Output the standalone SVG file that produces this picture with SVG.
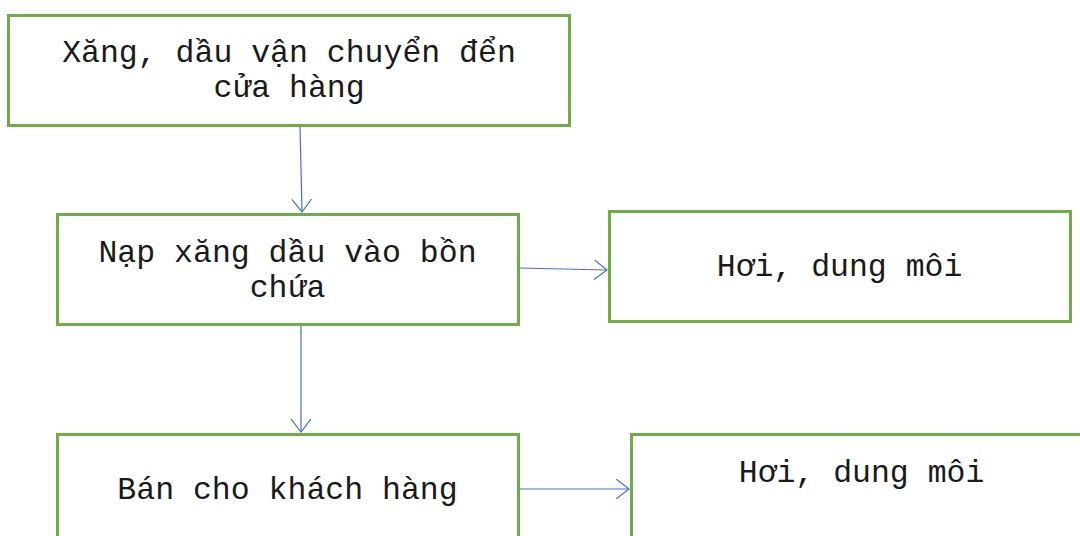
<svg xmlns="http://www.w3.org/2000/svg" width="1080" height="536" viewBox="0 0 1080 536">
  <defs>
    <style>
      .box { fill: #ffffff; stroke: #70AD47; stroke-width: 3; }
      .label { font-family: "Courier New", "Nimbus Mono PS", "FreeMono", "Liberation Mono", monospace; font-size: 31.5px; fill: #1a1a1a; text-anchor: middle; }
      .link { fill: none; stroke: #4472C4; stroke-width: 1.2; }
    </style>
    <marker id="open-arrow" viewBox="0 0 14 20" refX="13" refY="10" markerWidth="14" markerHeight="20" markerUnits="userSpaceOnUse" orient="auto">
      <path d="M0,0 L13,10 L0,20" fill="none" stroke="#4472C4" stroke-width="1.2"/>
    </marker>
  </defs>

  <rect width="1080" height="536" fill="#ffffff"/>

  <g id="connectors">
    <line class="link" x1="300" y1="126" x2="302" y2="212" marker-end="url(#open-arrow)"/>
    <line class="link" x1="519" y1="268" x2="607" y2="270" marker-end="url(#open-arrow)"/>
    <line class="link" x1="301" y1="325" x2="301" y2="432" marker-end="url(#open-arrow)"/>
    <line class="link" x1="519" y1="489" x2="629" y2="489" marker-end="url(#open-arrow)"/>
  </g>

  <g id="node-transport">
    <rect class="box" x="8.5" y="15.5" width="561" height="110"/>
    <text class="label" x="289" y="62">Xăng, dầu vận chuyển đển</text>
    <text class="label" x="289" y="97">cửa hàng</text>
  </g>

  <g id="node-tank-filling">
    <rect class="box" x="57.5" y="214.5" width="461" height="110"/>
    <text class="label" x="287.5" y="262">Nạp xăng dầu vào bồn</text>
    <text class="label" x="287.5" y="297">chứa</text>
  </g>

  <g id="node-vapour-1">
    <rect class="box" x="609.5" y="211.5" width="461" height="110"/>
    <text class="label" x="839.5" y="276">Hơi, dung môi</text>
  </g>

  <g id="node-sales">
    <rect class="box" x="57.5" y="434.5" width="461" height="110"/>
    <text class="label" x="287.5" y="499">Bán cho khách hàng</text>
  </g>

  <g id="node-vapour-2">
    <rect class="box" x="631.5" y="434.5" width="461" height="110"/>
    <text class="label" x="861.5" y="482">Hơi, dung môi</text>
  </g>
</svg>
